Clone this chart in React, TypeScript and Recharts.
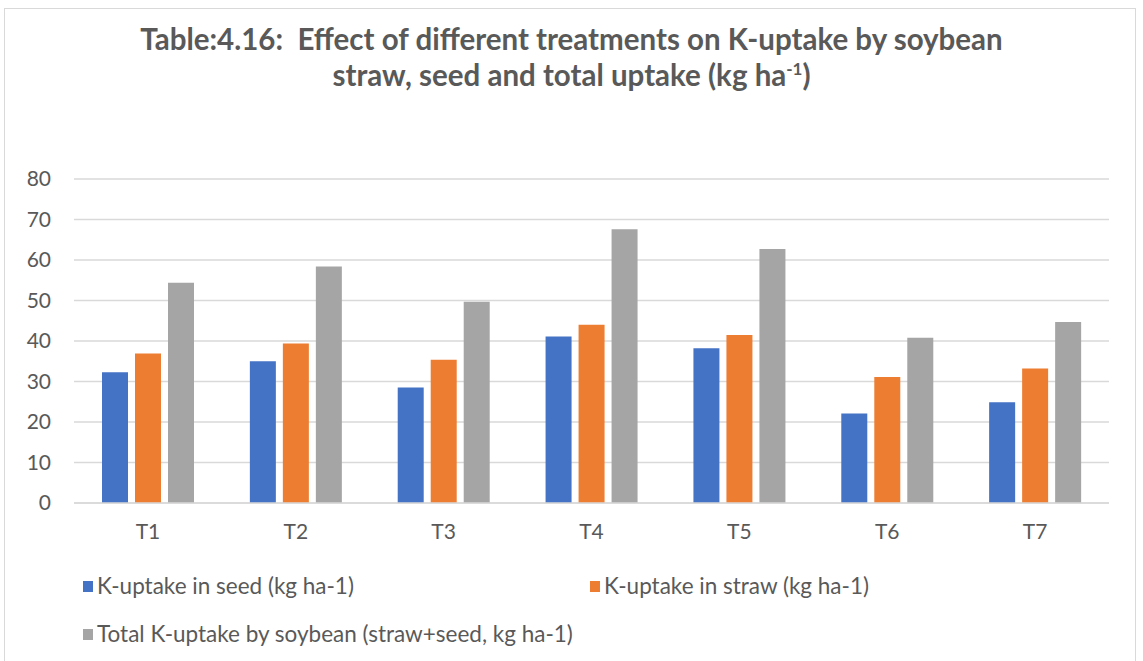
import React from "react";
import { BarChart, Bar, XAxis, YAxis, CartesianGrid } from "recharts";

const treatments = ["T1", "T2", "T3", "T4", "T5", "T6", "T7"];
const seedUptake = [32.3, 35.0, 28.5, 41.1, 38.2, 22.1, 24.9];
const strawUptake = [36.9, 39.4, 35.4, 44.0, 41.5, 31.1, 33.2];
const totalUptake = [54.4, 58.4, 49.7, 67.6, 62.7, 40.8, 44.7];
const yTicks = [0, 10, 20, 30, 40, 50, 60, 70, 80];

const series = [
  { key: "seed", name: "K-uptake in seed (kg ha-1)", color: "#4472C4" },
  { key: "straw", name: "K-uptake in straw (kg ha-1)", color: "#ED7D31" },
  { key: "total", name: "Total K-uptake by soybean (straw+seed, kg ha-1)", color: "#A5A5A5" },
];

const data = treatments.map((t, i) => ({
  name: t,
  seed: seedUptake[i],
  straw: strawUptake[i],
  total: totalUptake[i],
}));

const FONT = "Lato, 'Noto Sans', sans-serif";
const TEXT = "#595959";

// legend slots: two on the first row, one on the second
const legendPos = [
  { left: 83, top: 573 },
  { left: 590, top: 573 },
  { left: 83, top: 621 },
];

export default function App() {
  return (
    <div
      style={{
        position: "absolute",
        left: 0,
        top: 0,
        width: 1143,
        height: 661,
        overflow: "hidden",
        background: "#fff",
        fontFamily: FONT,
      }}
    >
      <div
        style={{
          position: "absolute",
          left: 4,
          top: 8,
          width: 1132,
          height: 700,
          border: "1.5px solid #d9d9d9",
          boxSizing: "border-box",
        }}
      />
      <div
        style={{
          position: "absolute",
          left: 0,
          top: 21,
          width: 1143,
          textAlign: "center",
          fontSize: 29.5,
          fontWeight: 700,
          lineHeight: "36px",
          color: TEXT,
        }}
      >
        Table:4.16:&nbsp; Effect of different treatments on K-uptake by soybean
        <br />
        straw, seed and total uptake (kg ha
        <sup style={{ fontSize: 17, lineHeight: 0 }}>-1</sup>)
      </div>
      <div style={{ position: "absolute", left: 0, top: 0 }}>
        <BarChart
          width={1143}
          height={661}
          data={data}
          margin={{ top: 179, right: 34, left: 14, bottom: 128 }}
          barGap={7}
        >
          <CartesianGrid vertical={false} stroke="#d9d9d9" strokeWidth={1.5} />
          <XAxis
            dataKey="name"
            height={30}
            tickLine={false}
            tickSize={0}
            tickMargin={21}
            stroke="#d9d9d9"
            strokeWidth={1.5}
            tick={{ fontSize: 21, fill: TEXT, fontFamily: FONT }}
          />
          <YAxis
            width={60}
            domain={[0, 80]}
            ticks={yTicks}
            axisLine={false}
            tickLine={false}
            tickSize={0}
            tickMargin={23}
            tick={{ fontSize: 21, fill: TEXT, fontFamily: FONT }}
          />
          {series.map((s) => (
            <Bar
              key={s.key}
              dataKey={s.key}
              name={s.name}
              fill={s.color}
              barSize={26}
              isAnimationActive={false}
            />
          ))}
        </BarChart>
      </div>
      {series.map((s, i) => (
        <div
          key={s.key}
          style={{
            position: "absolute",
            left: legendPos[i].left,
            top: legendPos[i].top,
            display: "flex",
            alignItems: "center",
            fontSize: 22.5,
            color: TEXT,
            lineHeight: "26px",
            whiteSpace: "nowrap",
          }}
        >
          <span
            style={{
              display: "inline-block",
              width: 10,
              height: 11,
              background: s.color,
              marginRight: 4,
            }}
          />
          {s.name}
        </div>
      ))}
    </div>
  );
}
